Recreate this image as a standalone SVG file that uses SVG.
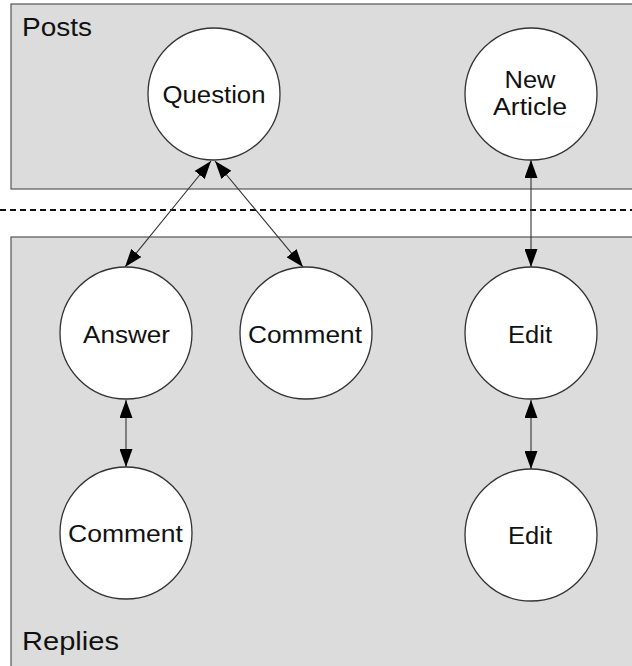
<svg xmlns="http://www.w3.org/2000/svg" width="632" height="666" viewBox="0 0 632 666">
<style>
.lane{fill:#dcdcdc;stroke:#555;stroke-width:1.2}
.node circle{fill:#fff;stroke:#333;stroke-width:1.3}
.lbl{font-family:"Liberation Sans",Arial,sans-serif;font-size:23px;fill:#111;text-anchor:middle}
.title{font-family:"Liberation Sans",Arial,sans-serif;font-size:26px;fill:#111}
.edge{stroke:#333;stroke-width:1.1;fill:none;marker-start:url(#ah);marker-end:url(#ah)}
</style>
<defs>
<marker id="ah" markerUnits="userSpaceOnUse" markerWidth="19" markerHeight="13" refX="18" refY="6.5" orient="auto-start-reverse" viewBox="0 0 19 13">
<path d="M0,0 L18,6.5 L0,13 z" fill="#000"/>
</marker>
</defs>
<rect width="632" height="666" fill="#fff"/>
<g id="lane-posts">
<rect class="lane" x="11" y="4" width="640" height="185"/>
<text class="title" x="22" y="36" textLength="70" lengthAdjust="spacingAndGlyphs">Posts</text>
</g>
<line x1="0" y1="210" x2="632" y2="210" stroke="#111" stroke-width="2" stroke-dasharray="6,4"/>
<g id="lane-replies">
<rect class="lane" x="11" y="237" width="640" height="450"/>
<text class="title" x="22" y="650" textLength="97" lengthAdjust="spacingAndGlyphs">Replies</text>
</g>
<g id="connectors">
<line class="edge" x1="211" y1="161" x2="125" y2="267"/>
<line class="edge" x1="215" y1="161" x2="303" y2="267"/>
<line class="edge" x1="531" y1="160" x2="531" y2="267"/>
<line class="edge" x1="126" y1="400" x2="126" y2="467"/>
<line class="edge" x1="531" y1="400" x2="531" y2="469"/>
</g>
<g id="question" class="node">
<circle cx="214" cy="94" r="66"/>
<text class="lbl" x="214" y="103" textLength="103" lengthAdjust="spacingAndGlyphs">Question</text>
</g>
<g id="new-article" class="node">
<circle cx="531" cy="94" r="66"/>
<text class="lbl" x="530" y="88" textLength="51" lengthAdjust="spacingAndGlyphs">New</text>
<text class="lbl" x="530" y="115" textLength="74" lengthAdjust="spacingAndGlyphs">Article</text>
</g>
<g id="answer" class="node">
<circle cx="126" cy="333" r="66"/>
<text class="lbl" x="126.5" y="343" textLength="87" lengthAdjust="spacingAndGlyphs">Answer</text>
</g>
<g id="comment-1" class="node">
<circle cx="306" cy="333" r="66"/>
<text class="lbl" x="305" y="343" textLength="114" lengthAdjust="spacingAndGlyphs">Comment</text>
</g>
<g id="edit-1" class="node">
<circle cx="531" cy="333" r="66"/>
<text class="lbl" x="530" y="343" textLength="44" lengthAdjust="spacingAndGlyphs">Edit</text>
</g>
<g id="comment-2" class="node">
<circle cx="126" cy="533" r="66"/>
<text class="lbl" x="125.5" y="542" textLength="115" lengthAdjust="spacingAndGlyphs">Comment</text>
</g>
<g id="edit-2" class="node">
<circle cx="531" cy="535" r="66"/>
<text class="lbl" x="530" y="544" textLength="44" lengthAdjust="spacingAndGlyphs">Edit</text>
</g>
</svg>
